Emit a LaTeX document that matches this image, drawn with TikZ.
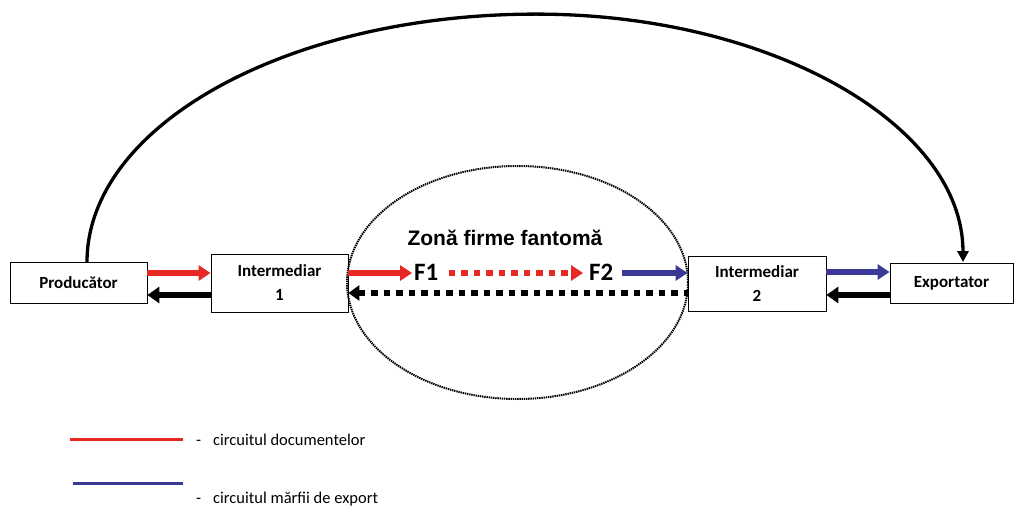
\documentclass[tikz,border=0pt]{standalone}
\usepackage{fontspec}
\setmainfont{Carlito}
\newfontfamily\headfont{Liberation Sans}
\usetikzlibrary{arrows.meta,shapes.geometric}

\definecolor{docred}{RGB}{232,40,36}
\definecolor{goodsblue}{RGB}{58,58,150}

\begin{document}
\begin{tikzpicture}[x=1pt,y=-1pt,
  box/.style={draw, line width=0.8pt, inner sep=0pt, align=center,
    font=\bfseries\fontsize{17}{24}\selectfont},
  firm/.style={inner sep=0pt, font=\bfseries\fontsize{25}{28}\selectfont},
  flowred/.style={docred, line width=5.5pt, -{Triangle[length=12pt,width=15pt]}},
  flowblue/.style={goodsblue, line width=5.5pt, -{Triangle[length=12pt,width=15pt]}},
  flowback/.style={black, line width=6pt, -{Triangle[length=12pt,width=16pt]}},
  squaredash/.style={line width=6pt, dash pattern=on 6.5pt off 6pt},
  legendline/.style={line width=3pt},
  legendtext/.style={anchor=base west, inner sep=0pt, font=\fontsize{16.5}{20}\selectfont}
]
\useasboundingbox (0,0) rectangle (1015,524);

% actors
\node[box, minimum width=137pt, minimum height=41pt] (prod) at (78.5,283) {Producător};
\node[box, minimum width=137pt, minimum height=58pt, text depth=0pt] (int1) at (279.5,283) {Intermediar\\1};
\node[box, minimum width=138pt, minimum height=55pt, text depth=0pt] (int2) at (757,283.5) {Intermediar\\2};
\node[box, minimum width=123pt, minimum height=40pt] (exp) at (951.5,283) {Exportator};

% ghost-company zone
\node[ellipse, draw, line width=2pt, dash pattern=on 1.4pt off 0.8pt,
  minimum width=341pt, minimum height=233pt, inner sep=0pt] (zone) at (517.5,282.5) {};
\node[inner sep=0pt, font=\headfont\bfseries\fontsize{21}{25}\selectfont] (title) at (505,238) {Zonă firme fantomă};
\node[firm, anchor=west] (f1) at (414,272) {F1};
\node[firm, anchor=west] (f2) at (589,272) {F2};

% document flow
\draw[flowred] (prod.east |- 0,273) -- (int1.west |- 0,273);
\draw[flowred] (int1.east |- 0,273) -- ([xshift=-2pt]f1.west |- 0,273);
\draw[flowred, squaredash] ([xshift=10pt]f1.east |- 0,273) -- ([xshift=-6pt]f2.west |- 0,273);
% goods flow
\draw[flowblue] ([xshift=8pt]f2.east |- 0,273) -- (int2.west |- 0,273);
\draw[flowblue] (int2.east |- 0,272) -- (exp.west |- 0,272);
% return flow
\draw[flowback] (exp.west |- 0,295) -- (int2.east |- 0,295);
\draw[black, squaredash, {Triangle[length=11pt,width=15pt]}-] (int1.east |- 0,293) -- (int2.west |- 0,293);
\draw[flowback] (int1.west |- 0,295) -- (prod.east |- 0,295);

% direct link producer -> exporter
\draw[line width=3.3pt, -{Triangle[length=11pt,width=11pt]}]
  (prod.north -| 87,0) arc[start angle=180, end angle=270, x radius=449, y radius=248]
  arc[start angle=270, end angle=360, x radius=427, y radius=248];

% legend
\coordinate (la1) at (70,439);  \coordinate (lb1) at (183,439);
\coordinate (la2) at (73,483);  \coordinate (lb2) at (183,483);
\coordinate (la3) at (73,525);  \coordinate (lb3) at (183,525);
\draw[legendline, docred] (la1) -- (lb1);
\draw[legendline, goodsblue] (la2) -- (lb2);
\draw[legendline, black] (la3) -- (lb3);
\node[legendtext] (t1) at (196,445) {\makebox[17pt][l]{-}circuitul documentelor};
\node[legendtext] (t2) at (196,503) {\makebox[17pt][l]{-}circuitul mărfii de export};
\end{tikzpicture}
\end{document}
